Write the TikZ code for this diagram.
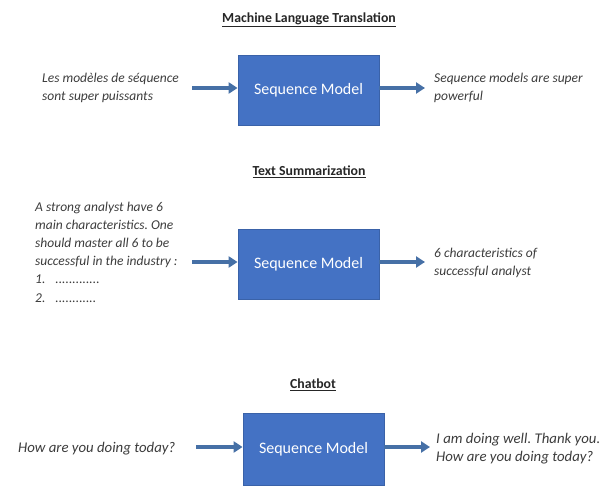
\documentclass[tikz,border=0pt]{standalone}
\usepackage{fontspec}
\setmainfont{Carlito}
\frenchspacing
\usetikzlibrary{arrows.meta}
\definecolor{boxblue}{HTML}{4472C4}
\definecolor{boxedge}{HTML}{3A62A8}
\definecolor{arrowblue}{HTML}{4670A6}
\definecolor{txtgray}{HTML}{3C3C3C}
\tikzset{
  model/.style={draw=boxedge, line width=0.8pt, fill=boxblue, minimum width=141pt, minimum height=70pt, inner sep=0pt, text=white, font=\fontsize{16}{18}\selectfont},
  flow/.style={draw=arrowblue, line width=3.4pt, -{Triangle[length=9pt,width=11pt]}},
  sidetext/.style={align=left, inner sep=0pt, text=txtgray, font=\fontsize{13.5}{17.5}\selectfont\itshape},
  heading/.style={inner sep=0pt, text=black!85, font=\fontsize{13.8}{16}\selectfont\bfseries}
}
\begin{document}
\begin{tikzpicture}[x=1pt,y=-1pt]
\useasboundingbox (0,0) rectangle (605,487);
% titles
\node[heading] (t1) at (309,20) {\underline{Machine Language Translation}};
\node[heading] (t2) at (309,172) {\underline{Text Summarization}};
\node[heading] (t3) at (313,385) {\underline{Chatbot}};
% boxes
\node[model] (m1) at (308.5,90) {Sequence Model};
\node[model] (m2) at (308.5,264) {Sequence Model};
\node[model, minimum height=72pt] (m3) at (313.5,449) {Sequence Model};
% texts
\node[sidetext, anchor=west] (in1) at (42,88) {Les modèles de séquence\\sont super puissants};
\node[sidetext, anchor=west] (out1) at (434,88) {Sequence models are super\\powerful};
\node[sidetext, anchor=west, font=\fontsize{13.5}{18.2}\selectfont\itshape] (in2) at (35,252) {A strong analyst have 6\\main characteristics. One\\should master all 6 to be\\successful in the industry :\\1.\hspace{10pt}.............\\2.\hspace{10pt}............};
\node[sidetext, anchor=west] (out2) at (434,263) {6 characteristics of\\successful analyst};
\node[sidetext, anchor=west, font=\fontsize{14.8}{18}\selectfont\itshape] (in3) at (18,449) {How are you doing today?};
\node[sidetext, anchor=west, font=\fontsize{14.8}{18}\selectfont\itshape] (out3) at (436,449) {I am doing well. Thank you.\\How are you doing today?};
% arrow ends
\coordinate (a1) at (192,88);
\coordinate (b1) at (425,88);
\coordinate (a2) at (192,262);
\coordinate (b2) at (425,262);
\coordinate (a3) at (196,447);
\coordinate (b3) at (430,447);
\draw[flow] (a1) -- (m1.west |- a1);
\draw[flow] (m1.east |- b1) -- (b1);
\draw[flow] (a2) -- (m2.west |- a2);
\draw[flow] (m2.east |- b2) -- (b2);
\draw[flow] (a3) -- (m3.west |- a3);
\draw[flow] (m3.east |- b3) -- (b3);
\end{tikzpicture}
\end{document}
